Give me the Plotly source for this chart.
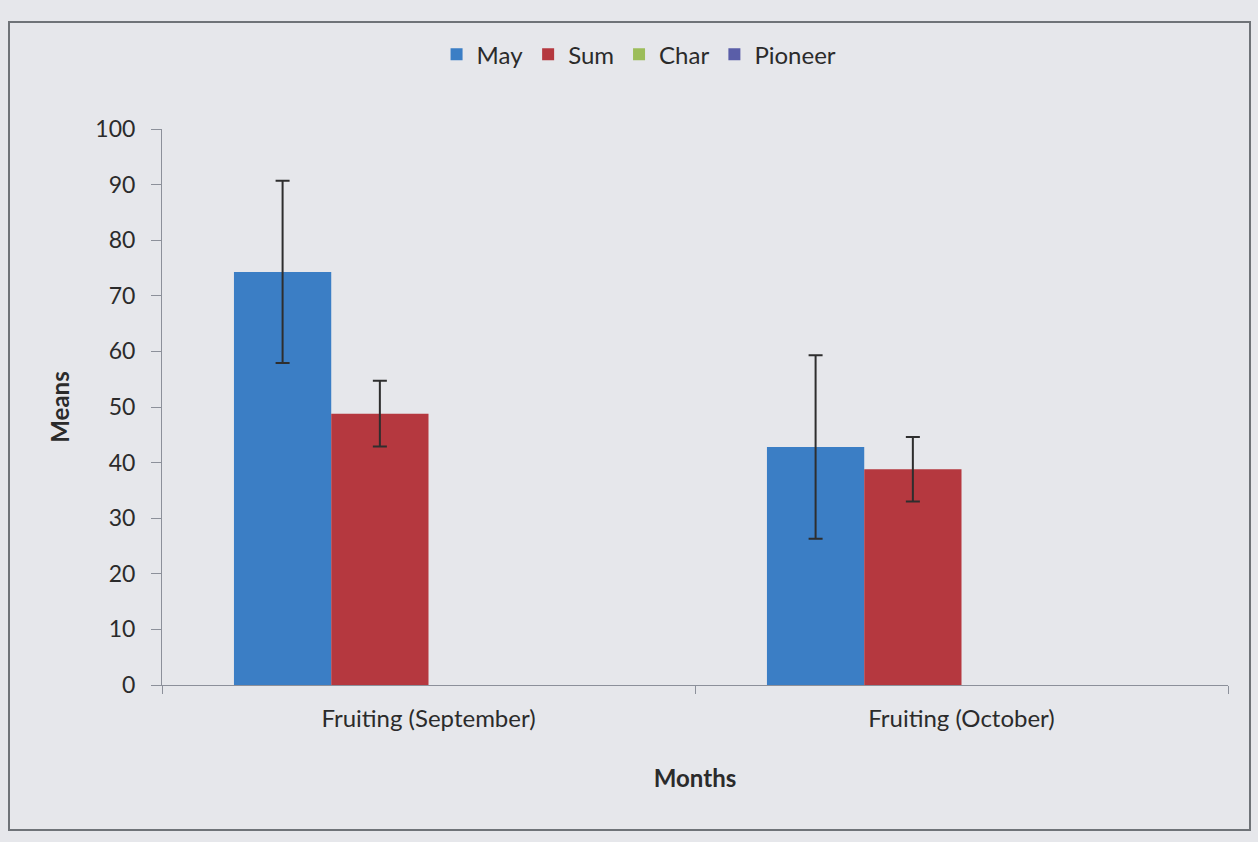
import plotly.graph_objects as go

# Data: mean values per stage and their error margins
categories = ["Fruiting (September)", "Fruiting (October)"]
series_names = ["May", "Sum", "Char", "Pioneer"]
may_means = [74.3, 42.8]
may_err = [16.4, 16.5]
sum_means = [48.8, 38.8]
sum_err = [5.9, 5.8]
char_means = [0, 0]
pioneer_means = [0, 0]
y_ticks = [0, 10, 20, 30, 40, 50, 60, 70, 80, 90, 100]

colors = {"May": "#3b7ec5", "Sum": "#b5383f", "Char": "#9cbd5a", "Pioneer": "#5a5ea8"}
font_family = "Lato, 'Open Sans', sans-serif"
text_color = "#2b2b2b"
axis_color = "#8c909a"
err_style = dict(type="data", thickness=2, width=7, color="#2e2e2e")

fig = go.Figure()
fig.add_trace(go.Bar(name="May", x=categories, y=may_means,
                     marker=dict(color=colors["May"], line=dict(width=0)),
                     error_y=dict(array=may_err, **err_style)))
fig.add_trace(go.Bar(name="Sum", x=categories, y=sum_means,
                     marker=dict(color=colors["Sum"], line=dict(width=0)),
                     error_y=dict(array=sum_err, **err_style)))
fig.add_trace(go.Bar(name="Char", x=categories, y=char_means,
                     marker=dict(color=colors["Char"], line=dict(width=0))))
fig.add_trace(go.Bar(name="Pioneer", x=categories, y=pioneer_means,
                     marker=dict(color=colors["Pioneer"], line=dict(width=0))))

bg = "#e6e7eb"
fig.update_layout(
    width=1258, height=842,
    paper_bgcolor=bg, plot_bgcolor=bg,
    margin=dict(l=162, r=30, t=129, b=157),
    barmode="group", bargap=0.27, bargroupgap=0,
    font=dict(family=font_family, color=text_color),
    showlegend=True,
    legend=dict(orientation="h", xref="container", yref="container",
                x=0.508, xanchor="center", y=0.935, yanchor="middle",
                font=dict(size=24, color=text_color), bgcolor="rgba(0,0,0,0)",
                itemwidth=30, traceorder="normal"),
    xaxis=dict(
        type="category", tickson="boundaries", ticks="outside", ticklen=8,
        tickcolor=axis_color, showline=True, linecolor=axis_color, linewidth=1,
        showgrid=False, tickfont=dict(size=24, color=text_color),
        ticklabelstandoff=12,
        title=dict(text="<b>Months</b>", font=dict(size=24, color=text_color), standoff=39),
    ),
    yaxis=dict(
        range=[0, 100], tickvals=y_ticks, ticks="outside", ticklen=10,
        tickcolor=axis_color, showline=True, linecolor=axis_color, linewidth=1,
        showgrid=False, zeroline=False, tickfont=dict(size=23, color=text_color),
        ticklabelstandoff=11,
        title=dict(text="<b>Means</b>", font=dict(size=24, color=text_color), standoff=18),
    ),
)

# Outer chart frame
plot_w = 1258 - 162 - 30
plot_h = 842 - 129 - 157
fig.add_shape(type="rect", xref="paper", yref="paper",
              x0=-(162 - 9) / plot_w, x1=1.0 + (1250 - 1228) / plot_w,
              y0=-(830 - 685) / plot_h, y1=1.0 + (129 - 22) / plot_h,
              line=dict(color="#6f7378", width=2), fillcolor="rgba(0,0,0,0)",
              layer="below")

fig.write_html("out.html")
